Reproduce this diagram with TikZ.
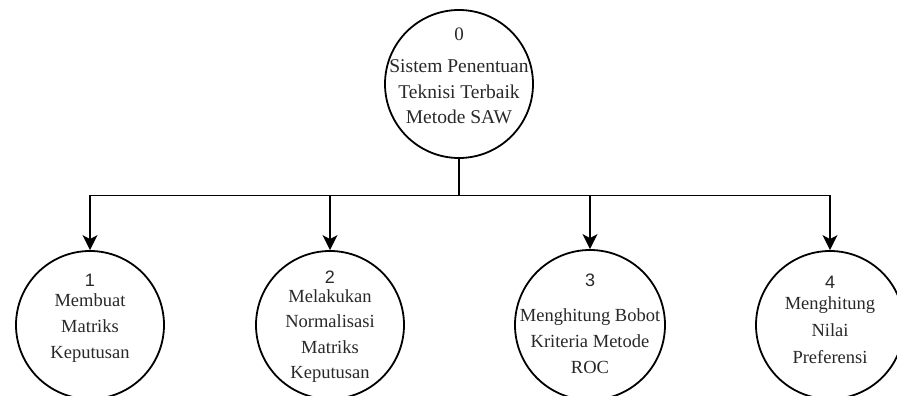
\documentclass[tikz,border=0pt]{standalone}
\usepackage{fontspec}
\setmainfont{Liberation Serif}
\newfontfamily\numfont{Liberation Sans}
\usetikzlibrary{arrows.meta}
\definecolor{txt}{RGB}{40,40,40}
\tikzset{
  proc/.style={circle,draw=black,line width=1.8pt,minimum size=148pt,inner sep=0pt},
  lbl/.style={font=\fontsize{18.5}{26}\selectfont,text=txt,align=center,inner sep=0pt,anchor=center},
  num/.style={font=\numfont\fontsize{18}{20}\selectfont,text=txt,inner sep=0pt,anchor=center},
  numserif/.style={font=\fontsize{19}{20}\selectfont,text=txt,inner sep=0pt,anchor=center},
  conn/.style={line width=1.8pt,draw=black},
  arr/.style={conn,-{Stealth[length=15pt,width=15pt,inset=4pt]}}
}
\begin{document}
\begin{tikzpicture}[x=1pt,y=-1pt]
\useasboundingbox (0,0) rectangle (897,396);
\clip (0,0) rectangle (897,396);
\node[proc] (c0) at (459,84) {};
\node[proc] (c1) at (90,325) {};
\node[proc] (c2) at (330,325) {};
\node[proc,minimum size=150pt] (c3) at (590,325) {};
\node[proc] (c4) at (830,325) {};
\coordinate (bus) at (459,195.5);
\node[numserif] (n0) at (459,34) {0};
\node[lbl,font=\fontsize{19.5}{25.5}\selectfont] (t0) at (459,92) {Sistem Penentuan\\Teknisi Terbaik\\Metode SAW};
\node[num] (n1) at (90,280) {1};
\node[lbl] (t1) at (90,328) {Membuat\\Matriks\\Keputusan};
\node[num] (n2) at (330,277) {2};
\node[lbl,font=\fontsize{18.5}{25.4}\selectfont] (t2) at (330,336) {Melakukan\\Normalisasi\\Matriks\\Keputusan};
\node[num] (n3) at (590,280) {3};
\node[lbl] (t3) at (590,341) {Menghitung Bobot\\Kriteria Metode\\ROC};
\node[num] (n4) at (830,282) {4};
\node[lbl,font=\fontsize{18.5}{27}\selectfont] (t4) at (830,330) {Menghitung\\Nilai\\Preferensi};
\draw[conn] (c0.south) -- (bus);
\draw[arr] (bus) -| (c1.north);
\draw[arr] (bus) -| (c2.north);
\draw[arr] (bus) -| (c3.north);
\draw[arr] (bus) -| (c4.north);
\end{tikzpicture}
\end{document}
